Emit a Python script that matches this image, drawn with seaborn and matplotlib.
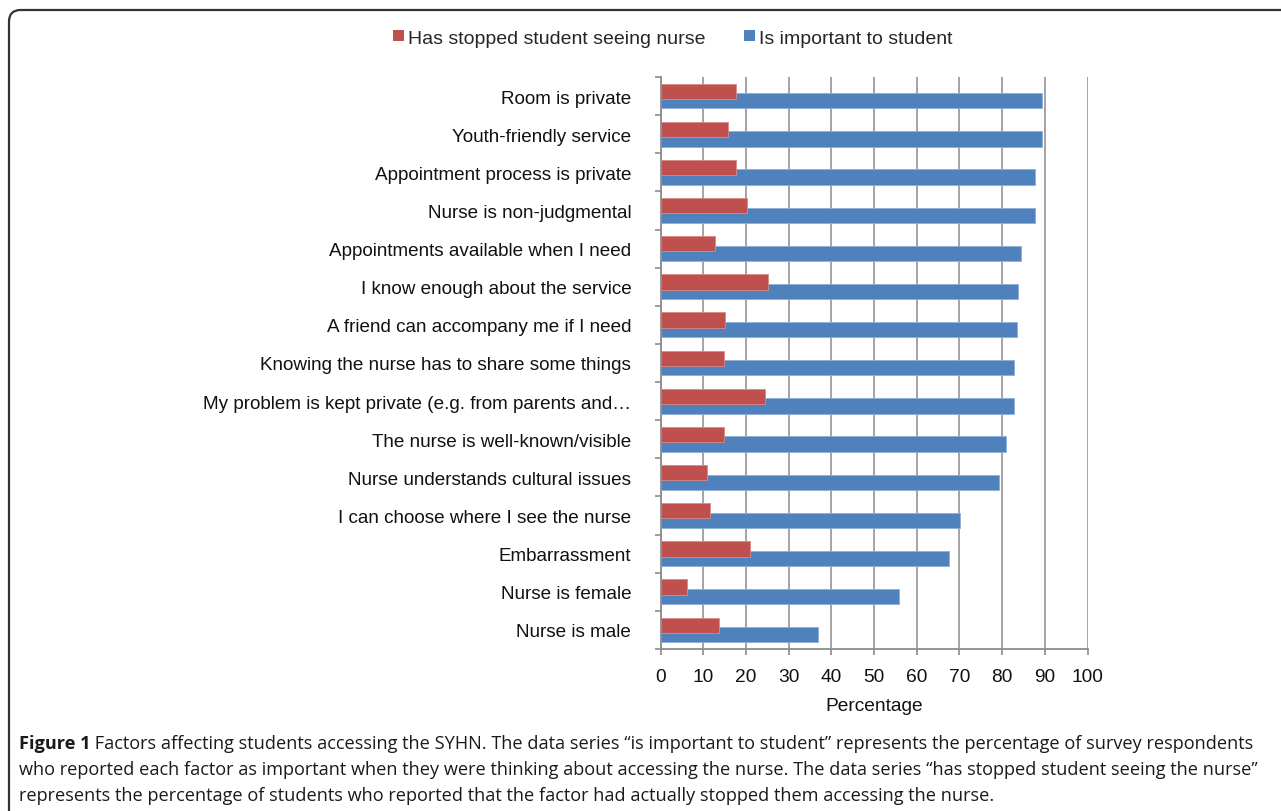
import matplotlib
matplotlib.use("Agg")
import matplotlib.pyplot as plt
import seaborn as sns
import pandas as pd
from matplotlib.patches import FancyBboxPatch, Patch
from matplotlib.ticker import FixedLocator

categories = [
    "Room is private",
    "Youth-friendly service",
    "Appointment process is private",
    "Nurse is non-judgmental",
    "Appointments available when I need",
    "I know enough about the service",
    "A friend can accompany me if I need",
    "Knowing the nurse has to share some things",
    "My problem is kept private (e.g. from parents and\u2026",
    "The nurse is well-known/visible",
    "Nurse understands cultural issues",
    "I can choose where I see the nurse",
    "Embarrassment",
    "Nurse is female",
    "Nurse is male",
]
stopped = [17.6, 15.8, 17.6, 20.2, 12.7, 25.2, 15.1, 14.8, 24.5, 14.8, 10.9, 11.6, 20.9, 6.1, 13.8]
important = [89.3, 89.3, 87.6, 87.6, 84.5, 83.8, 83.4, 82.8, 82.9, 81.0, 79.3, 70.1, 67.6, 55.8, 37.0]
series_names = ["Has stopped student seeing nurse", "Is important to student"]
x_ticks = list(range(0, 101, 10))

caption_bold = "Figure 1"
caption_lines = [
    " Factors affecting students accessing the SYHN. The data series \u201cis important to student\u201d represents the percentage of survey respondents",
    "who reported each factor as important when they were thinking about accessing the nurse. The data series \u201chas stopped student seeing the nurse\u201d",
    "represents the percentage of students who reported that the factor had actually stopped them accessing the nurse.",
]

df = pd.DataFrame({
    "Factor": categories * 2,
    "Series": [series_names[0]] * len(categories) + [series_names[1]] * len(categories),
    "Value": stopped + important,
})

sns.set_theme(style="white")
plt.rcParams["font.family"] = ["Liberation Sans", "DejaVu Sans"]

RED = "#C0504D"
BLUE = "#4F81BD"
GRID = "#8C8C8C"

fig = plt.figure(figsize=(12.81, 8.12), dpi=100)
ax = fig.add_axes([660.5 / 1281, 1 - 650 / 812, 427 / 1281, 572 / 812])

sns.barplot(data=df, y="Factor", x="Value", hue="Series", hue_order=series_names,
            order=categories, palette=[RED, BLUE], orient="h", width=0.5,
            dodge=True, ax=ax, legend=False, errorbar=None, saturation=1)

for ci, cont in enumerate(ax.containers):
    for bar in cont:
        c = bar.get_y() + bar.get_height() / 2
        bar.set_y(c - 0.2)
        bar.set_height(0.4)
        if ci == 0:
            bar.set_zorder(4)
            bar.set_edgecolor("#D98A88")
        else:
            bar.set_zorder(3)
            bar.set_edgecolor("#8FAFD8")
        bar.set_linewidth(0.6)

ax.set_xlim(0, 100)
ax.set_ylim(len(categories) - 0.5, -0.5)
ax.xaxis.set_major_locator(FixedLocator(x_ticks))
ax.set_xticklabels([str(t) for t in x_ticks])
ax.grid(axis="x", color=GRID, linewidth=1.1, zorder=1)
ax.grid(axis="y", visible=False)
ax.set_axisbelow(True)

for s in ["top", "right"]:
    ax.spines[s].set_visible(False)
for s in ["left", "bottom"]:
    ax.spines[s].set_color(GRID)
    ax.spines[s].set_linewidth(1.3)
    ax.spines[s].set_zorder(5)

ax.set_yticks(range(len(categories)))
ax.set_yticklabels(categories)
ax.yaxis.set_minor_locator(FixedLocator([i - 0.5 for i in range(len(categories) + 1)]))
ax.tick_params(axis="y", which="major", length=0, pad=21, labelsize=13.6, labelcolor="#111111")
ax.tick_params(axis="y", which="minor", length=4, width=1.2, color=GRID, left=True)
ax.tick_params(axis="x", which="major", length=4, width=1.2, color=GRID, bottom=True,
               pad=10, labelsize=13.8, labelcolor="#111111")
ax.set_ylabel("")
ax.set_xlabel("Percentage", fontsize=13.8, color="#111111", labelpad=8)

handles = [Patch(facecolor=RED, edgecolor="none"), Patch(facecolor=BLUE, edgecolor="none")]
fig.legend(handles, series_names, loc="center", bbox_to_anchor=(673 / 1281, 1 - 39 / 812),
           ncol=2, frameon=False, fontsize=14, handlelength=0.55, handleheight=0.55,
           handletextpad=0.2, columnspacing=2.0)

# outer rounded frame
box = FancyBboxPatch((9 / 1281, -0.02), 1.05, 1 - 11 / 812 + 0.02,
                     boxstyle="round,pad=0,rounding_size=0.009",
                     transform=fig.transFigure, fill=False, edgecolor="#333333",
                     linewidth=1.6, mutation_aspect=1281 / 812)
fig.add_artist(box)

cap_font = ["Open Sans", "DejaVu Sans"]
cap_size = 13.05
fig.canvas.draw()
renderer = fig.canvas.get_renderer()
y_lines = [744, 770, 796]
tb = fig.text(19 / 1281, 1 - y_lines[0] / 812, caption_bold, fontsize=cap_size, fontweight="bold",
              family=cap_font, va="center", ha="left", color="#1a1a1a")
bb = tb.get_window_extent(renderer)
fig.text(bb.x1 / fig.bbox.width, 1 - y_lines[0] / 812, caption_lines[0], fontsize=cap_size,
         family=cap_font, va="center", ha="left", color="#1a1a1a")
for yl, line in zip(y_lines[1:], caption_lines[1:]):
    fig.text(19 / 1281, 1 - yl / 812, line, fontsize=cap_size, family=cap_font,
             va="center", ha="left", color="#1a1a1a")

fig.savefig("out.png", dpi=100)
